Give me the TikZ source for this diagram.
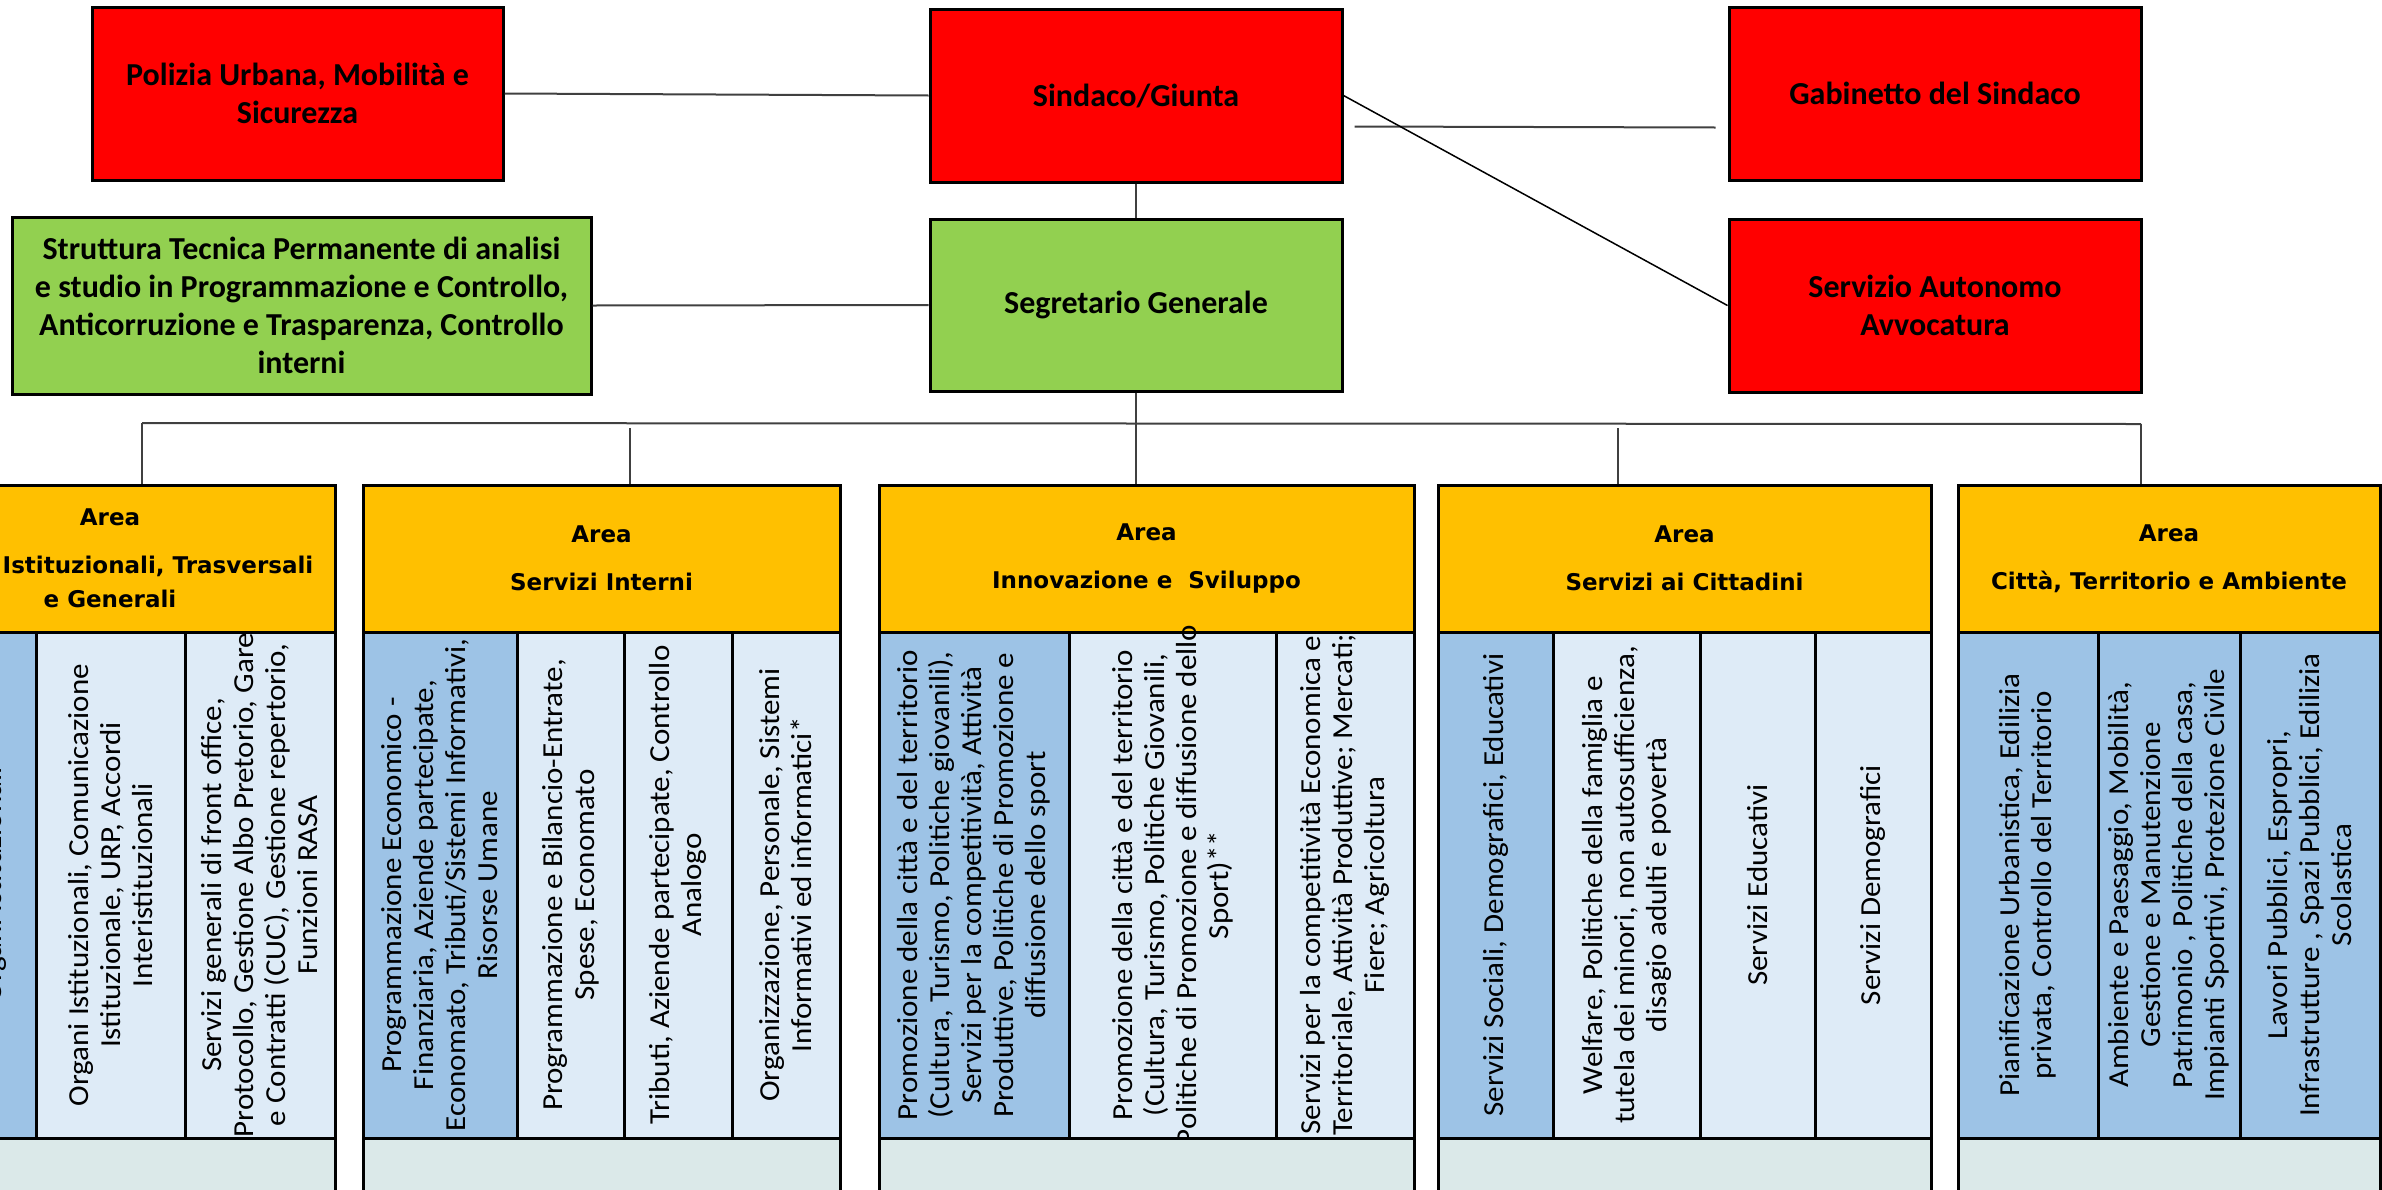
\documentclass[tikz,border=0pt]{standalone}
\usepackage{fontspec}
\setmainfont{Carlito}
\newfontfamily\areafont{DejaVu Sans}
\newfontfamily\colfont{Carlito}[FakeStretch=1.07]
\definecolor{areaorange}{HTML}{FFC000}
\definecolor{boxgreen}{HTML}{92D050}
\definecolor{coldark}{HTML}{9DC3E6}
\definecolor{collight}{HTML}{DEEBF7}
\definecolor{stripgray}{HTML}{DBE9E9}
\definecolor{linegray}{HTML}{404040}
\tikzset{
  topbox/.style={draw, line width=3pt, inner sep=0pt, align=center, minimum height=173pt, font={\fontsize{32}{38}\selectfont\bfseries}},
  redbox/.style={topbox, fill=red},
  greenbox/.style={topbox, fill=boxgreen},
  areahead/.style={draw, line width=3pt, fill=areaorange, inner sep=0pt, align=center, minimum height=147pt, font={\fontsize{23}{34}\selectfont\areafont\bfseries}},
  colbox/.style={draw, line width=3pt, rotate=90, inner sep=0pt, align=center, minimum width=506pt, font={\colfont\fontsize{29}{32}\selectfont}},
  darkcol/.style={colbox, fill=coldark},
  lightcol/.style={colbox, fill=collight},
  stripbox/.style={draw, line width=3pt, fill=stripgray, inner sep=0pt, minimum height=62pt},
  conn/.style={draw=linegray, line width=2pt}
}
\begin{document}
\begin{tikzpicture}[x=1pt,y=-1pt]
\useasboundingbox (0,0) rectangle (2382,1189);
\clip (0,0) rectangle (2382,1189);

\node[redbox, minimum width=411pt] (pol) at (297.5,93.5) {Polizia Urbana, Mobilità e\\Sicurezza};
\node[redbox, minimum width=412pt] (sind) at (1136,95.5) {Sindaco/Giunta};
\node[redbox, minimum width=412pt] (gab) at (1935,93.5) {Gabinetto del Sindaco};
\node[greenbox, minimum width=579pt, minimum height=177pt] (strut) at (301.5,305.5) {Struttura Tecnica Permanente di analisi\\e studio in Programmazione e Controllo,\\Anticorruzione e Trasparenza, Controllo\\interni};
\node[greenbox, minimum width=412pt, minimum height=172pt] (seg) at (1136,305) {Segretario Generale};
\node[redbox, minimum width=412pt] (avv) at (1935,305.5) {Servizio Autonomo\\Avvocatura};

\draw[conn] (pol.east) -- (sind.west);
\draw[conn] (sind.south) -- (seg.north);
\draw[conn] ([xshift=11pt,yshift=-31pt]sind.east) -- ([xshift=-12pt,yshift=-34pt]gab.west);
\draw[black, line width=1.5pt] (sind.east) -- (avv.west);
\draw[conn] (strut.east) -- (seg.west);

\node[areahead, minimum width=450pt] (hdA) at (110,558.5) {Area\\[14pt]\hspace*{96pt}Istituzionali, Trasversali\\e Generali};
\node[darkcol, minimum height=84pt] (cA1) at (-6,885) {Organi Istituzionali};
\node[lightcol, minimum height=149pt] (cA2) at (110.5,885) {Organi Istituzionali, Comunicazione\\Istituzionale, URP, Accordi\\Interistituzionali};
\node[lightcol, minimum height=150pt] (cA3) at (260,885) {Servizi generali di front office,\\Protocollo, Gestione Albo Pretorio, Gare\\e Contratti (CUC), Gestione repertorio,\\Funzioni RASA};
\node[stripbox, minimum width=450pt] (sA) at (110,1169) {};

\node[areahead, minimum width=477pt] (hdB) at (601.5,558.5) {Area\\[14pt]Servizi Interni};
\node[darkcol, minimum height=154pt] (cB1) at (440,885) {Programmazione Economico -\\Finanziaria, Aziende partecipate,\\Economato, Tributi/Sistemi Informativi,\\Risorse Umane};
\node[lightcol, minimum height=107pt] (cB2) at (570.5,885) {Programmazione e Bilancio-Entrate,\\Spese, Economato};
\node[lightcol, minimum height=108pt] (cB3) at (678,885) {Tributi, Aziende partecipate, Controllo\\Analogo};
\node[lightcol, minimum height=108pt] (cB4) at (786,885) {Organizzazione, Personale, Sistemi\\Informativi ed informatici*};
\node[stripbox, minimum width=477pt] (sB) at (601.5,1169) {};

\node[areahead, minimum width=535pt] (hdC) at (1146.5,558.5) {Area\\[14pt]Innovazione e\ \ Sviluppo};
\node[darkcol, minimum height=190pt] (cC1) at (974,885) {Promozione della città e del territorio\\(Cultura, Turismo, Politiche giovanili),\\Servizi per la competitività, Attività\\Produttive, Politiche di Promozione e\\diffusione dello sport};
\node[lightcol, minimum height=207pt] (cC2) at (1172.5,885) {Promozione della città e del territorio\\(Cultura, Turismo, Politiche Giovanili,\\\makebox[470pt]{Politiche di Promozione e diffusione dello}\\Sport)**};
\node[lightcol, minimum height=138pt] (cC3) at (1345,885) {Servizi per la competitività Economica e\\Territoriale, Attività Produttive; Mercati;\\Fiere; Agricoltura};
\node[stripbox, minimum width=535pt] (sC) at (1146.5,1169) {};

\node[areahead, minimum width=493pt] (hdD) at (1684.5,558.5) {Area\\[14pt]Servizi ai Cittadini};
\node[darkcol, minimum height=115pt] (cD1) at (1495.5,885) {Servizi Sociali, Demografici, Educativi};
\node[lightcol, minimum height=147pt] (cD2) at (1626.5,885) {Welfare, Politiche della famiglia e\\tutela dei minori, non autosufficienza,\\disagio adulti e povertà};
\node[lightcol, minimum height=115pt] (cD3) at (1757.5,885) {Servizi Educativi};
\node[lightcol, minimum height=116pt] (cD4) at (1873,885) {Servizi Demografici};
\node[stripbox, minimum width=493pt] (sD) at (1684.5,1169) {};

\node[areahead, minimum width=422pt] (hdE) at (2169,558.5) {Area\\[14pt]Città, Territorio e Ambiente};
\node[darkcol, minimum height=140pt] (cE1) at (2028,885) {Pianificazione Urbanistica, Edilizia\\privata, Controllo del Territorio};
\node[darkcol, minimum height=142pt] (cE2) at (2169,885) {Ambiente e Paesaggio, Mobilità,\\Gestione e Manutenzione\\Patrimonio , Politiche della casa,\\Impianti Sportivi, Protezione Civile};
\node[darkcol, minimum height=140pt] (cE3) at (2310,885) {Lavori Pubblici, Espropri,\\Infrastrutture , Spazi Pubblici, Edilizia\\Scolastica};
\node[stripbox, minimum width=422pt] (sE) at (2169,1169) {};

\coordinate (busL) at (142,423);
\coordinate (busR) at (2141,424);
\coordinate (dropB) at (630,428);
\coordinate (dropD) at (1618,428);
\draw[conn] (busL) -- (busR);
\draw[conn] (busL) -- (busL |- hdA.north);
\draw[conn] (dropB) -- (dropB |- hdB.north);
\draw[conn] (seg.south) -- (seg.south |- hdC.north);
\draw[conn] (dropD) -- (dropD |- hdD.north);
\draw[conn] (busR) -- (busR |- hdE.north);

\end{tikzpicture}
\end{document}
